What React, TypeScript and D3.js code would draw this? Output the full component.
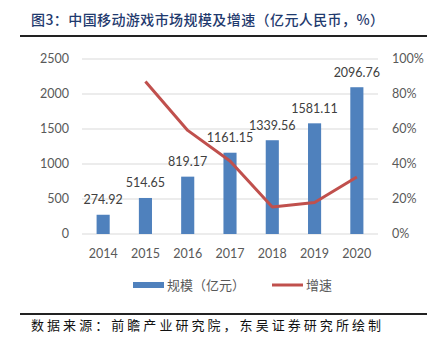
import React from "react";
import * as d3 from "d3";

const years = ["2014", "2015", "2016", "2017", "2018", "2019", "2020"];
const scale = [274.92, 514.65, 819.17, 1161.15, 1339.56, 1581.11, 2096.76];
const growth = [null, 87.2, 59.2, 41.7, 15.4, 18.0, 32.6];
const leftTicks = [0, 500, 1000, 1500, 2000, 2500];
const rightTicks = [0, 20, 40, 60, 80, 100];

const W = 429, H = 351;
const plot = { left: 82, right: 378, top: 59, bottom: 234 };
const numFont = "Lato, 'Noto Sans', sans-serif";
const cjkFont = "'Noto Sans CJK SC', sans-serif";

export default function App() {
  const x = d3.scaleBand<string>().domain(years).range([plot.left, plot.right]).paddingInner(0.69).paddingOuter(0.345);
  const yL = d3.scaleLinear().domain([0, 2500]).range([plot.bottom, plot.top]);
  const yR = d3.scaleLinear().domain([0, 100]).range([plot.bottom, plot.top]);
  const cx = (d: string) => (x(d) as number) + x.bandwidth() / 2;
  const pts = years.map((y, i) => ({ y, g: growth[i] })).filter(p => p.g !== null) as { y: string; g: number }[];
  const line = d3.line<{ y: string; g: number }>().x(p => cx(p.y)).y(p => yR(p.g));

  return (
    <svg width={W} height={H} style={{ position: "absolute", left: 0, top: 0, background: "#fff" }}>
      <rect width={W} height={H} fill="#fff" />
      <text x={31} y={25} fontFamily={cjkFont} fontSize={14} fontWeight={500} fill="#1f3a6e" textLength={353} lengthAdjust="spacing">图3：中国移动游戏市场规模及增速（亿元人民币，%）</text>
      <line x1={20} x2={427} y1={36} y2={36} stroke="#222" strokeWidth={2} />

      {leftTicks.map(t => (
        <g key={"l" + t}>
          <line x1={plot.left} x2={plot.right} y1={yL(t)} y2={yL(t)} stroke="#d9d9d9" strokeWidth={1} />
          <text x={69} y={yL(t)} dy="0.35em" textAnchor="end" fontFamily={numFont} fontSize={12.5} fill="#595959">{t}</text>
        </g>
      ))}
      {rightTicks.map(t => (
        <text key={"r" + t} x={392} y={yR(t)} dy="0.35em" textAnchor="start" fontFamily={numFont} fontSize={12.5} fill="#595959">{t}%</text>
      ))}

      {years.map((yr, i) => (
        <g key={yr}>
          <rect x={x(yr)} y={yL(scale[i])} width={x.bandwidth()} height={plot.bottom - yL(scale[i])} fill="#4f81bd" />
          <text x={cx(yr)} y={yL(scale[i]) - 10.5} textAnchor="middle" fontFamily={numFont} fontSize={12.5} fill="#404040">{scale[i].toFixed(2)}</text>
          <text x={cx(yr)} y={258} textAnchor="middle" fontFamily={numFont} fontSize={12.5} fill="#595959">{yr}</text>
        </g>
      ))}

      <path d={line(pts) || ""} fill="none" stroke="#c0504d" strokeWidth={3} strokeLinejoin="round" />

      <rect x={133} y={282} width={31} height={6} fill="#4f81bd" />
      <text x={167} y={285} dy="0.35em" fontFamily={cjkFont} fontSize={13} fill="#595959">规模（亿元）</text>
      <line x1={272} x2={303} y1={285} y2={285} stroke="#c0504d" strokeWidth={3} />
      <text x={306} y={285} dy="0.35em" fontFamily={cjkFont} fontSize={13} fill="#595959">增速</text>

      <line x1={20} x2={427} y1={314} y2={314} stroke="#222" strokeWidth={2} />
      <text x={31} y={330} fontFamily={cjkFont} fontSize={13} fill="#111" textLength={350} lengthAdjust="spacing">数据来源：前瞻产业研究院，东吴证券研究所绘制</text>
    </svg>
  );
}
